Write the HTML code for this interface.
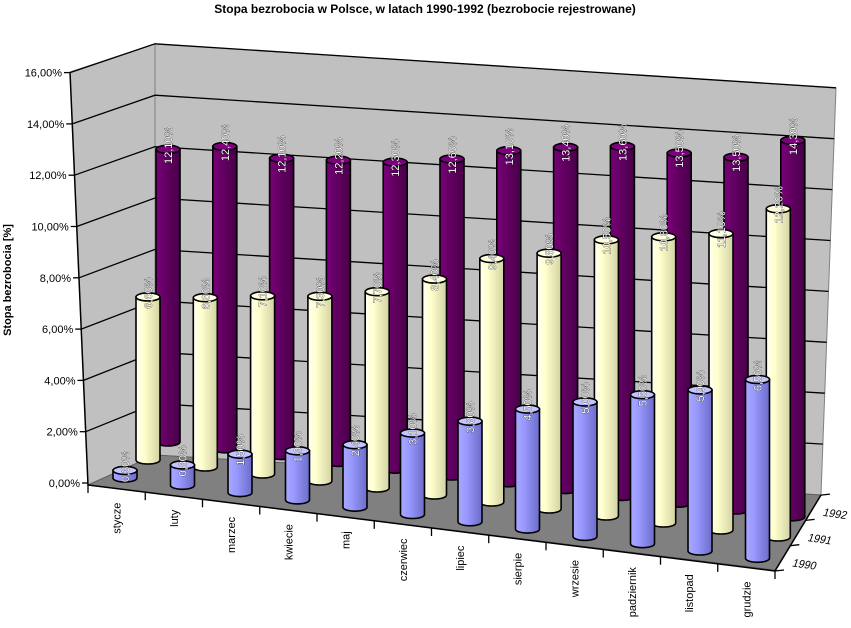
<!DOCTYPE html>
<html><head><meta charset="utf-8"><style>
html,body{margin:0;padding:0;background:#fff;}
svg{display:block;font-family:"Liberation Sans",sans-serif;}
</style></head><body>
<svg id="chart" width="851" height="628" viewBox="0 0 851 628" xmlns="http://www.w3.org/2000/svg">
<defs>
<linearGradient id="g0" x1="0" x2="1" y1="0" y2="0"><stop offset="0" stop-color="#a8a8ff"/><stop offset="0.35" stop-color="#9999ff"/><stop offset="1" stop-color="#6c6cc8"/></linearGradient>
<linearGradient id="g1" x1="0" x2="1" y1="0" y2="0"><stop offset="0" stop-color="#fffff2"/><stop offset="0.35" stop-color="#ffffcc"/><stop offset="1" stop-color="#d2d2a4"/></linearGradient>
<linearGradient id="g2" x1="0" x2="1" y1="0" y2="0"><stop offset="0" stop-color="#7a007a"/><stop offset="0.35" stop-color="#660066"/><stop offset="1" stop-color="#480048"/></linearGradient>
</defs>
<text x="425" y="13" text-anchor="middle" font-size="12" font-weight="bold">Stopa bezrobocia w Polsce, w latach 1990-1992 (bezrobocie rejestrowane)</text>
<text transform="translate(11,280) rotate(-90)" text-anchor="middle" font-size="11" font-weight="bold">Stopa bezrobocia [%]</text>
<g id="walls"></g>
<g id="bars"></g>
<g id="axes"></g>
</svg>
<script>
const categories = ["stycze","luty","marzec","kwiecie","maj","czerwiec","lipiec","sierpie","wrzesie","padziernik","listopad","grudzie"];
const seriesNames = ["1990","1991","1992"];
const values1990 = [0.3,0.8,1.5,1.9,2.4,3.1,3.8,4.5,5.0,5.5,5.9,6.5];
const values1991 = [6.6,6.8,7.1,7.3,7.7,8.4,9.4,9.8,10.5,10.8,11.1,12.2];
const values1992 = [12.1,12.4,12.1,12.2,12.3,12.6,13.1,13.4,13.6,13.5,13.5,14.3];
const yTicks = [0,2,4,6,8,10,12,14,16];

const NS = "http://www.w3.org/2000/svg";
function mk(tag, attrs, parent){const e=document.createElementNS(NS,tag);for(const k in attrs)e.setAttribute(k,attrs[k]);parent.appendChild(e);return e;}
function fmt(v){return v.toFixed(2).replace('.',',')+'%';}

// geometry: series row s (0 front .. 2 back), category i
const rowBase=[{x:125,y:478,dx:57.5,dy:7.3},{x:148,y:460,dx:57.3,dy:7.0},{x:168,y:442,dx:56.8,dy:6.8}];
function basePt(s,i){const r=rowBase[s];return {x:r.x+i*r.dx,y:r.y+i*r.dy};}
function scaleAt(by){return 24.7+(by-460)*0.0286;}
function yVal(s,i,v){const b=basePt(s,i);return b.y - v*scaleAt(b.y);}
function axisY(v){return 483 - v/2*51.3;}
function backLeftY(v){return 455 - v/2*51.4;}
function backRightY(v){return 495 - v/2*50.9;}

const walls=document.getElementById('walls');
let p;
p=mk('polygon',{points:"70,72 155,44 155,455 88,485",fill:"#c0c0c0",stroke:"#808080","stroke-width":1},walls);

p=mk('polygon',{points:"155,44 836,88 821,495 155,455",fill:"#c0c0c0",stroke:"#808080","stroke-width":1},walls);

p=mk('polygon',{points:"88,485 155,455 821,495 775,570",fill:"#808080",stroke:"#606060","stroke-width":1},walls);

yTicks.forEach(v=>{
  if(v===0)return;
  const ax=70+(16-v)/16*18;
  const l1=mk('polyline',{points:`${ax},${axisY(v)} 155,${backLeftY(v)} ${836-(16-v)/16*15},${backRightY(v)}`,fill:"none",stroke:"#000","stroke-width":1.3},walls);
  
  
});

const bars=document.getElementById('bars');
const allVals=[values1990,values1991,values1992];
const grads=["url(#g0)","url(#g1)","url(#g2)"];
const tops=["#c4c4ff","#ffffe0","#7e007e"];
const W=12, RY=4;
for(let s=2;s>=0;s--){
  for(let i=0;i<categories.length;i++){
    const v=allVals[s][i];
    const b=basePt(s,i);
    const ty=yVal(s,i,v);
    const g=mk('g',{},bars);
    
    
    mk('path',{d:`M${b.x-W},${ty} L${b.x-W},${b.y} A${W},${RY} 0 0 0 ${b.x+W},${b.y} L${b.x+W},${ty} Z`,fill:grads[s],stroke:"#000","stroke-width":1.6},g);
    mk('ellipse',{cx:b.x,cy:ty,rx:W,ry:RY,fill:tops[s],stroke:"#000","stroke-width":1.6},g);
    const t=mk('text',{transform:`translate(${b.x+4},${ty-4}) rotate(-90)`,"text-anchor":"middle","font-size":11,fill:"#fff",stroke:"#000","stroke-width":0.5,"paint-order":"stroke"},g);
    t.textContent=fmt(v);
    
    
  }
}

const axes=document.getElementById('axes');
let a=mk('line',{x1:70,y1:72,x2:88,y2:485,stroke:"#000","stroke-width":1.5},axes);

yTicks.forEach(v=>{
  const ax=70+(16-v)/16*18;
  const y=axisY(v);
  mk('line',{x1:ax-6,y1:y,x2:ax,y2:y,stroke:"#000","stroke-width":1.3},axes);
  const t=mk('text',{x:ax-8,y:y+4,"text-anchor":"end","font-size":11},axes);
  t.textContent=v.toFixed(2).replace('.',',')+'%';
  
  
});
a=mk('line',{x1:88,y1:485,x2:775,y2:571,stroke:"#000","stroke-width":1.5},axes);

for(let i=0;i<=categories.length;i++){
  const x=88+i*57.25, y=485+i*7.17;
  mk('line',{x1:x,y1:y,x2:x,y2:y+8,stroke:"#000","stroke-width":1.3},axes);
}
categories.forEach((c,i)=>{
  const x=88+(i+0.5)*57.25+4, y=485+(i+0.5)*7.17+14;
  const t=mk('text',{transform:`translate(${x},${y}) rotate(-90)`,"text-anchor":"end","font-size":11},axes);
  t.textContent=c;
  
  
});
a=mk('line',{x1:775,y1:571,x2:821,y2:495,stroke:"#000","stroke-width":1.5},axes);

for(let k=0;k<=3;k++){
  const x=775+k*15.3, y=571-k*25.3;
  mk('line',{x1:x,y1:y,x2:x+9,y2:y-1,stroke:"#000","stroke-width":1.3},axes);
}
seriesNames.forEach((n,k)=>{
  const x=784+(k+0.5)*15.3, y=571-(k+0.5)*25.3+8;
  const t=mk('text',{transform:`translate(${x},${y}) skewX(-12) rotate(8)`,"font-size":11},axes);
  t.textContent=n;
  
  
});
</script>
</body></html>
